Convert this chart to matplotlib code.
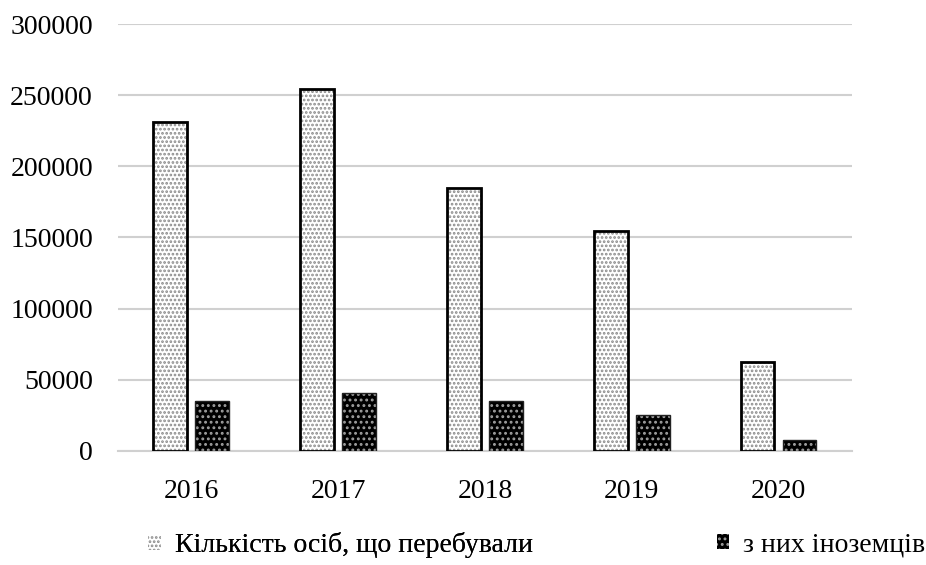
import matplotlib
matplotlib.use("Agg")
import matplotlib.pyplot as plt
import numpy as np

years = ["2016", "2017", "2018", "2019", "2020"]
total_persons = [231500, 254000, 185000, 154500, 62500]
foreigners = [35000, 40500, 35000, 25500, 8000]
series_labels = ["Кількість осіб, що перебували", "з них іноземців"]
y_ticks = [0, 50000, 100000, 150000, 200000, 250000, 300000]

plt.rcParams["font.family"] = ["Liberation Serif", "DejaVu Serif"]
plt.rcParams["hatch.linewidth"] = 1.3

fig = plt.figure(figsize=(9.26, 5.65), dpi=100)
ax = fig.add_axes([0.1274, 0.2018, 0.7926, 0.7557])

x = np.arange(len(years))
w = 0.23
off = 0.143

# light dotted bars: dotted fill first, then a black outline on top
b1 = ax.bar(x - off, total_persons, w, facecolor="white", edgecolor="#8a8a8a",
            hatch="....", linewidth=0, zorder=3, label=series_labels[0])
ax.bar(x - off, total_persons, w, facecolor="none", edgecolor="black",
       linewidth=2.0, zorder=4)

# dark bars with light dots
b2 = ax.bar(x + off, foreigners, w, facecolor="black", edgecolor="#a0a0a0",
            hatch="...", linewidth=0, zorder=3, label=series_labels[1])
ax.bar(x + off, foreigners, w, facecolor="none", edgecolor="#222222",
       linewidth=1.0, zorder=4)

ax.set_xlim(-0.5, len(years) - 0.5)
ax.set_ylim(0, 300000)
ax.set_yticks(y_ticks)
ax.set_yticklabels([str(v) for v in y_ticks])
ax.set_xticks(x)
ax.set_xticklabels(years)

ax.grid(axis="y", color="#d0d0d0", linewidth=1.5, zorder=0)
ax.set_axisbelow(True)
for s in ["top", "right", "left"]:
    ax.spines[s].set_visible(False)
ax.spines["bottom"].set_color("#d0d0d0")
ax.spines["bottom"].set_linewidth(1.5)

ax.tick_params(axis="both", length=0, labelsize=20)
ax.tick_params(axis="x", pad=20)
ax.tick_params(axis="y", pad=18)

legend_kw = dict(loc="center left", frameon=False, fontsize=20,
                 handlelength=0.45, handleheight=0.45, handletextpad=0.5,
                 borderpad=0, borderaxespad=0)
leg1 = fig.legend(handles=[b1], labels=[series_labels[0]],
                  bbox_to_anchor=(0.16, 0.035), **legend_kw)
fig.add_artist(leg1)
fig.legend(handles=[b2], labels=[series_labels[1]],
           bbox_to_anchor=(0.774, 0.035), **legend_kw)

fig.savefig("out.png", dpi=100)
